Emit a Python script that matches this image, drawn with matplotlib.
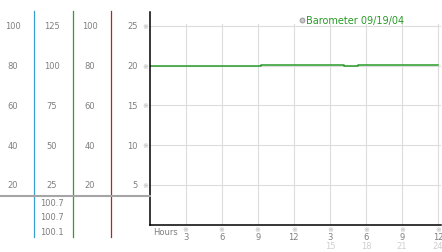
import matplotlib
matplotlib.use("Agg")
import matplotlib.pyplot as plt
from matplotlib.lines import Line2D
from matplotlib.transforms import blended_transform_factory

# barometer trace (hours, value on the 0-25 scale)
hours = [0, 9.3, 16.2, 17.3, 24]
values = [20.0, 20.12, 19.95, 20.12, 20.12]

main_ticks = [5, 10, 15, 20, 25]
col_a = [20, 40, 60, 80, 100]
col_b = [25, 50, 75, 100, 125]
col_c = [20, 40, 60, 80, 100]
readouts = ["100.7", "100.7", "100.1"]

hour_ticks = [3, 6, 9, 12, 15, 18, 21, 24]
hour_labels = ["3", "6", "9", "12", "3", "6", "9", "12"]
day_labels = ["", "", "", "", "15", "18", "21", "24"]

W, H = 442, 253
GREEN = "#279a27"
TXT = "#7f7f7f"
LIGHT = "#cfcfcf"
GRID = "#dcdcdc"
MARK = "#b0b0b0"

fig = plt.figure(figsize=(W / 100, H / 100), dpi=100)
fig.patch.set_facecolor("white")


def fx(px):
    return px / W


def fy(py):
    return 1 - py / H


ax = fig.add_axes([fx(149.5), fy(225.5), fx(440.5 - 149.5), (225.5 - 13) / H])
ax.set_xlim(0, 24.2)
ax.set_ylim(0, 26.75)
for side in ["top", "right"]:
    ax.spines[side].set_visible(False)
for side in ["left", "bottom"]:
    ax.spines[side].set_color("black")
    ax.spines[side].set_linewidth(1.1)
ax.set_xticks([])
ax.set_yticks([])

for y in main_ticks:
    ax.axhline(y, color=GRID, lw=0.8, zorder=0)
for x in hour_ticks:
    ax.plot([x, x], [0, 25.3], color=GRID, lw=0.8, zorder=0)

ax.plot(hours, values, drawstyle="steps-post", color=GREEN, lw=1.1)

# legend
ax.plot([fx(302)], [fy(21)], transform=fig.transFigure, marker="o", ms=3.5,
        mfc="#c8c8c8", mec="#909090", mew=0.6, clip_on=False)
fig.text(fx(306), fy(21), "Barometer 09/19/04", color=GREEN, fontsize=7,
         va="center", ha="left")

# left columns, y from the axes' data scale
tr = blended_transform_factory(fig.transFigure, ax.transData)
for y, a, b, c in zip(main_ticks, col_a, col_b, col_c):
    ax.text(fx(12.5), y, str(a), transform=tr, ha="center", va="center",
            fontsize=6, color=TXT, clip_on=False)
    ax.text(fx(52), y, str(b), transform=tr, ha="center", va="center",
            fontsize=6, color=TXT, clip_on=False)
    ax.text(fx(90), y, str(c), transform=tr, ha="center", va="center",
            fontsize=6, color=TXT, clip_on=False)
    ax.text(fx(138), y, str(y), transform=tr, ha="right", va="center",
            fontsize=6, color=TXT, clip_on=False)
    ax.text(fx(145.5), y, "\u203b", transform=tr, ha="center", va="center",
            fontsize=5, color=MARK, clip_on=False)

for i, r in enumerate(readouts):
    fig.text(fx(52), fy(203.5 + i * 14.5), r, ha="center", va="center",
             fontsize=6, color=TXT)

# column separators
for xpx, col in [(33.5, "#3a9fd0"), (72.5, "#2e9e2e"), (111, "#bb2222")]:
    fig.add_artist(Line2D([fx(xpx), fx(xpx)], [fy(12), fy(237.5)],
                          color=col, lw=0.9))
fig.add_artist(Line2D([0, fx(149.5)], [fy(196.7), fy(196.7)],
                      color="#a5a5a5", lw=1.5))

# hour axis labels
trx = blended_transform_factory(ax.transData, fig.transFigure)
fig.text(fx(153), fy(232.5), "Hours", ha="left", va="center",
         fontsize=6, color=TXT)
for x, lab, day in zip(hour_ticks, hour_labels, day_labels):
    ax.text(x, fy(230), "\u203b", transform=trx, ha="center", va="center",
            fontsize=5, color=MARK, clip_on=False)
    ax.text(x, fy(238), lab, transform=trx, ha="center", va="center",
            fontsize=6, color=TXT, clip_on=False)
    if day:
        ax.text(x, fy(247), day, transform=trx, ha="center", va="center",
                fontsize=6, color=LIGHT, clip_on=False)

fig.savefig("out.png", dpi=100)
